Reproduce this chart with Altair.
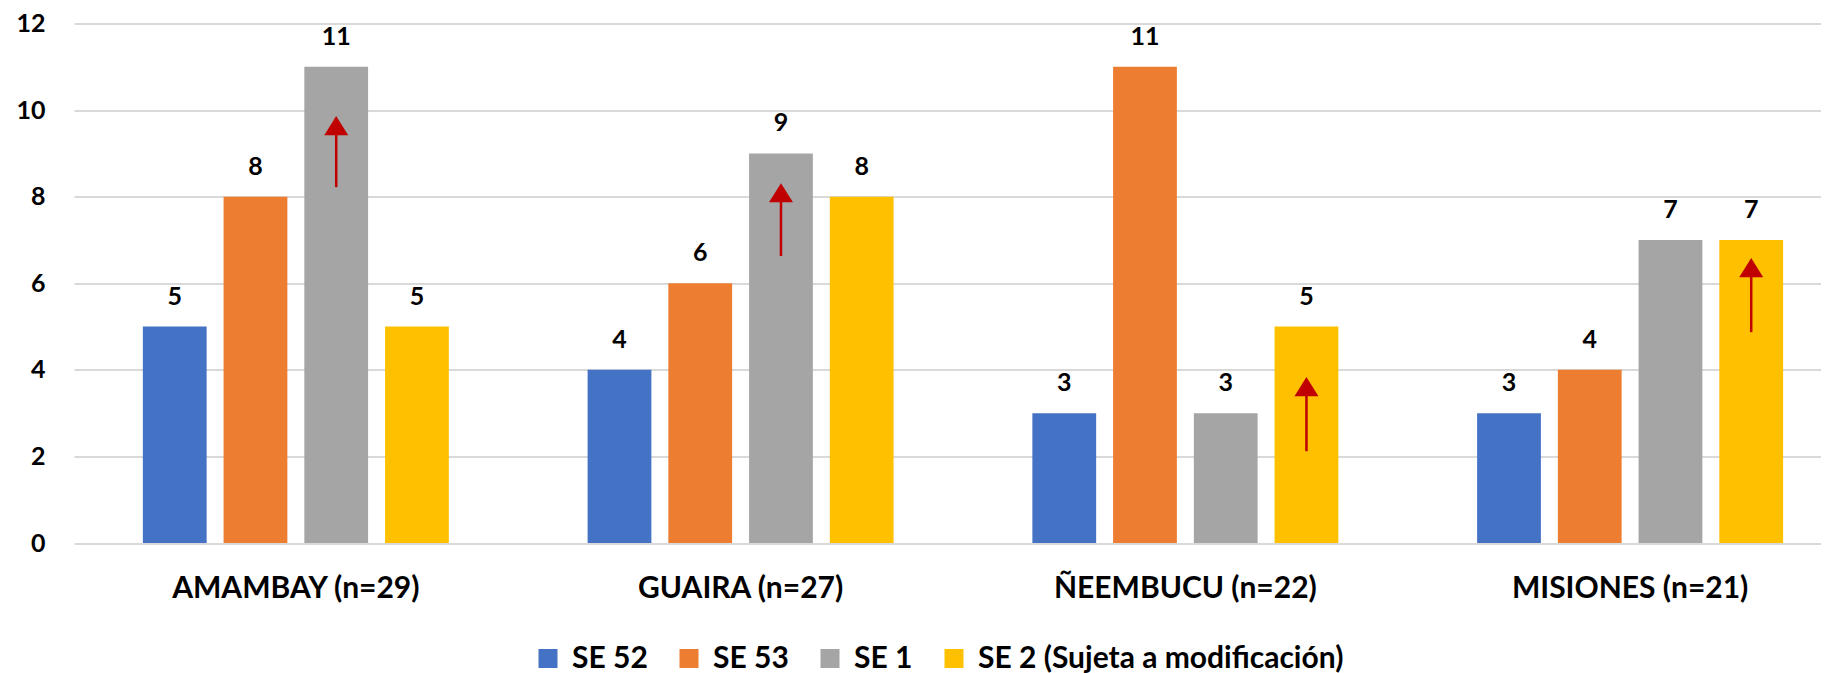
import altair as alt
import pandas as pd

categories = ["AMAMBAY (n=29)", "GUAIRA (n=27)", "ÑEEMBUCU (n=22)", "MISIONES (n=21)"]
series = ["SE 52", "SE 53", "SE 1", "SE 2 (Sujeta a modificación)"]
se52 = [5, 4, 3, 3]
se53 = [8, 6, 11, 4]
se1 = [11, 9, 3, 7]
se2 = [5, 8, 5, 7]
colors = ["#4472C4", "#ED7D31", "#A5A5A5", "#FFC000"]

# red arrows (start value and arrow-head centre, in data units)
arrow_cat = ["AMAMBAY (n=29)", "GUAIRA (n=27)", "ÑEEMBUCU (n=22)", "MISIONES (n=21)"]
arrow_series = ["SE 1", "SE 1", "SE 2 (Sujeta a modificación)", "SE 2 (Sujeta a modificación)"]
arrow_from = [8.22, 6.63, 2.12, 4.87]
arrow_head = [9.64, 8.09, 3.61, 6.36]

rows = []
for s, vals in zip(series, [se52, se53, se1, se2]):
    for c, v in zip(categories, vals):
        rows.append({"cat": c, "series": s, "value": v})
df = pd.DataFrame(rows)

adf = pd.DataFrame({"cat": arrow_cat, "series": arrow_series,
                    "y0": arrow_from, "y1": arrow_head})

FONT = "Lato"

x_enc = alt.X("cat:N", sort=categories,
              scale=alt.Scale(domain=categories, paddingInner=0.312, paddingOuter=0.12, align=0.645),
              axis=alt.Axis(title=None, domain=False, ticks=False, tickSize=0, grid=False,
                            labelFont=FONT, labelFontSize=30, labelFontWeight="bold",
                            labelColor="black", labelPadding=30, labelAngle=0, labelLimit=0))
xo_enc = alt.XOffset("series:N", sort=series,
                     scale=alt.Scale(domain=series, paddingInner=0.21, paddingOuter=0))
y_scale = alt.Scale(domain=[0, 12], nice=False)

bars = alt.Chart(df).mark_bar().encode(
    x=x_enc,
    xOffset=xo_enc,
    y=alt.Y("value:Q", scale=y_scale,
            axis=alt.Axis(title=None, values=[0, 2, 4, 6, 8, 10, 12], domain=False,
                          ticks=False, tickSize=0, labelFont=FONT, labelFontSize=25,
                          labelFontWeight="bold", labelColor="black", labelPadding=29,
                          gridColor="#D9D9D9", gridWidth=2)),
    color=alt.Color("series:N", sort=series,
                    scale=alt.Scale(domain=series, range=colors),
                    legend=alt.Legend(orient="none", legendX=459, legendY=620, direction="horizontal",
                                      title=None, symbolType="square",
                                      symbolSize=361, symbolStrokeWidth=0, symbolOpacity=1,
                                      labelFont=FONT, labelFontSize=30, labelFontWeight="bold",
                                      labelColor="black", labelOffset=9, columnPadding=26,
                                      labelLimit=0, padding=0)),
)

text = alt.Chart(df).mark_text(font=FONT, fontSize=25, fontWeight="bold",
                               baseline="alphabetic", dy=-22, color="black").encode(
    x=alt.X("cat:N", sort=categories),
    xOffset=alt.XOffset("series:N", sort=series),
    y=alt.Y("value:Q"),
    text=alt.Text("value:Q"),
)

rule = alt.Chart(adf).mark_rule(color="#C00000", strokeWidth=2.5).encode(
    x=alt.X("cat:N", sort=categories),
    xOffset=alt.XOffset("series:N", sort=series),
    y=alt.Y("y0:Q"),
    y2="y1:Q",
)

head = alt.Chart(adf).mark_point(shape="M-1,0.8L0,-0.8L1,0.8Z", size=576, filled=True,
                                 color="#C00000", opacity=1, strokeWidth=0).encode(
    x=alt.X("cat:N", sort=categories),
    xOffset=alt.XOffset("series:N", sort=series),
    y=alt.Y("y1:Q"),
)

chart = alt.layer(bars, text, rule, head).properties(
    width=1747, height=519.5,
    autosize=alt.AutoSizeParams(type="none"),
    padding={"left": 66, "top": 15.5, "right": 0, "bottom": 130},
    background="white",
).configure_view(stroke=None)

chart.save("out.html", embed_options={"renderer": "svg", "actions": False})
